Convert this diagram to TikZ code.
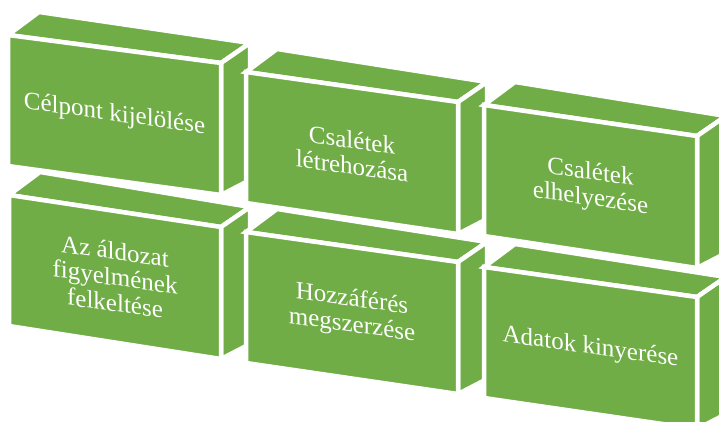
\documentclass[tikz,border=0pt]{standalone}
\usepackage{fontspec}
\setmainfont{Liberation Serif}
\usetikzlibrary{calc}
\definecolor{boxgreen}{HTML}{70AD47}
\tikzset{
  face/.style={fill=boxgreen, draw=white, line width=4.5pt, line join=miter},
  lbl/.style={text=white, font=\fontsize{25}{26}\selectfont, align=center, yslant=-0.14, inner sep=0pt}
}
\newcommand{\brickbox}[6]{%
  \pgfmathsetmacro\bbl{#4+131}%
  \pgfmathsetmacro\bbr{#5+132}%
  \coordinate (#1-tl) at (#2,#4);
  \coordinate (#1-tr) at (#3,#5);
  \coordinate (#1-br) at (#3,\bbr);
  \coordinate (#1-bl) at (#2,\bbl);
  \draw[face] (#1-tl) -- (#1-tr) -- ($(#1-tr)+(29,-20)$) -- ($(#1-tl)+(31,-23)$) -- cycle;
  \draw[face] (#1-tr) -- ($(#1-tr)+(29,-20)$) -- ($(#1-br)+(29,-15)$) -- (#1-br) -- cycle;
  \draw[face] (#1-tl) -- (#1-tr) -- (#1-br) -- (#1-bl) -- cycle;
  \node[lbl] (#1) at ($(#1-tl)!0.5!(#1-br)$) {#6};
}
\begin{document}
\begin{tikzpicture}[x=1pt,y=-1pt]
\useasboundingbox (0,0) rectangle (719,422);
\clip (0,0) rectangle (719,422);
% bottom row
\brickbox{b4}{9}{221}{195}{227}{Az áldozat\\figyelmének\\felkeltése}
\brickbox{b5}{246}{458}{232}{262}{Hozzáférés\\megszerzése}
\brickbox{b6}{484}{697}{267}{297}{Adatok kinyerése}
% top row
\brickbox{b1}{8}{221}{35}{63}{Célpont kijelölése}
\brickbox{b2}{246}{458}{72}{102}{Csalétek\\létrehozása}
\brickbox{b3}{484}{697}{105}{136}{Csalétek\\elhelyezése}
\end{tikzpicture}
\end{document}
